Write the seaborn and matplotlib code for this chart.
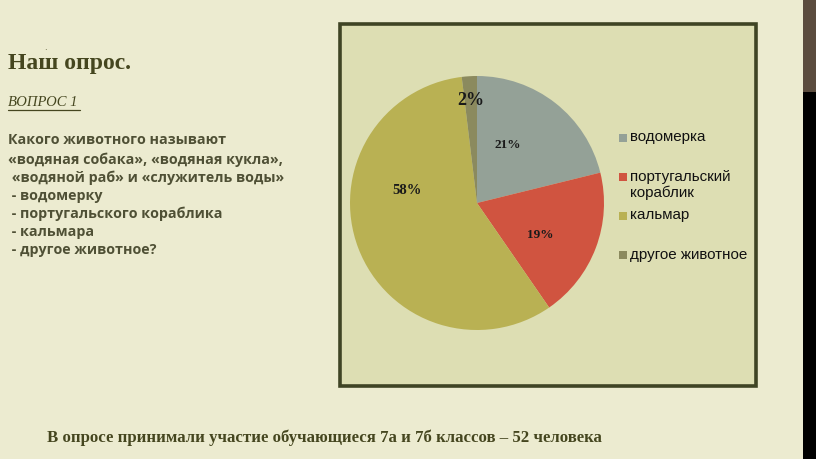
import matplotlib
matplotlib.use("Agg")
import matplotlib.pyplot as plt
import seaborn as sns
from matplotlib.patches import Rectangle

sns.set_style("white")
plt.rcParams['font.family'] = ['DejaVu Sans']

# ---- data ----
categories = ["водомерка", "португальский\nкораблик", "кальмар", "другое животное"]
counts = [11, 10, 30, 1]          # out of 52 respondents
pct_labels = ["21%", "19%", "58%", "2%"]
colors = ["#94a197", "#d05440", "#b9b153", "#8b8a5e"]

title = "Наш опрос."
question_head = "ВОПРОС 1"
question_lines = [
    "Какого животного называют",
    "«водяная собака», «водяная кукла»,",
    " «водяной раб» и «служитель воды»",
    " - водомерку",
    " - португальского кораблика",
    " - кальмара",
    " - другое животное?",
]
footer = "В опросе принимали участие обучающиеся 7а и 7б классов – 52 человека"

W, H = 816, 459
fig = plt.figure(figsize=(W / 100, H / 100), dpi=100)
fig.patch.set_facecolor("#ecebd0")

def fx(x):
    return x / W

def fy(y):
    return 1 - y / H

# right decoration strip
fig.add_artist(Rectangle((fx(803), 0), fx(13), fy(92), transform=fig.transFigure,
                         facecolor="#000000", edgecolor="none", zorder=0))
fig.add_artist(Rectangle((fx(803), fy(92)), fx(13), 92 / H, transform=fig.transFigure,
                         facecolor="#5b4c3e", edgecolor="none", zorder=0))

# chart frame
fig.add_artist(Rectangle((fx(340), fy(386)), fx(416), (386 - 24) / H, transform=fig.transFigure,
                         facecolor="#dddeb3", edgecolor="#3f4424", linewidth=2.6, zorder=0))

# pie axes
cx, cy, r = 477, 203, 127
ax = fig.add_axes([fx(cx - r), fy(cy + r), 2 * r / W, 2 * r / H])
ax.set_facecolor("none")
wedges, _ = ax.pie(counts, colors=colors, startangle=90, counterclock=False,
                   radius=1, wedgeprops=dict(linewidth=0))
ax.set_xlim(-1, 1)
ax.set_ylim(-1, 1)
ax.set_aspect("equal")
ax.axis("off")

# percentage labels (positions in data coords of the pie)
label_pos = [(0.24, 0.46), (0.50, -0.25), (-0.55, 0.10), (-0.05, 0.81)]
label_size = [9.5, 9.5, 10.5, 13]
for (lx, ly), txt, fs in zip(label_pos, pct_labels, label_size):
    ax.text(lx, ly, txt, ha="center", va="center", fontsize=fs, fontweight="bold",
            family=["Liberation Serif"], color="#1a1a1a")

# legend (manual, PowerPoint-like layout)
leg_y = [138, 177, 216, 255]
for y, lab, col in zip(leg_y, categories, colors):
    fig.add_artist(Rectangle((fx(619), fy(y + 4)), fx(8), 8 / H, transform=fig.transFigure,
                             facecolor=col, edgecolor="none"))
    fig.text(fx(630), fy(y - 7.5), lab, ha="left", va="top", fontsize=10.9,
             family=["Liberation Sans"], color="#111111", linespacing=1.2)

# left text
dark = "#45461f"
fig.text(fx(45), fy(47), ".", fontsize=6, color=dark, ha="center", va="center")
fig.text(fx(8), fy(63), title, fontsize=17, fontweight="bold", family=["Liberation Serif"],
         color=dark, ha="left", va="center")
fig.text(fx(8), fy(102), question_head, fontsize=10.5, style="italic", family=["Liberation Serif"],
         color=dark, ha="left", va="center")
fig.add_artist(plt.Line2D([fx(8), fx(80)], [fy(110), fy(110)], color=dark, linewidth=0.9,
                          transform=fig.transFigure))
line_y = [140, 160, 178, 196, 214, 232, 250]
for y, t in zip(line_y, question_lines):
    fig.text(fx(8), fy(y), t, fontsize=10.3, fontweight="bold", family=["Open Sans", "DejaVu Sans"],
             color="#4f5035", ha="left", va="center")

fig.text(fx(47), fy(438), footer, fontsize=12.1, fontweight="bold", family=["Liberation Serif"],
         color=dark, ha="left", va="center")

fig.savefig("out.png", dpi=100, facecolor=fig.get_facecolor())
